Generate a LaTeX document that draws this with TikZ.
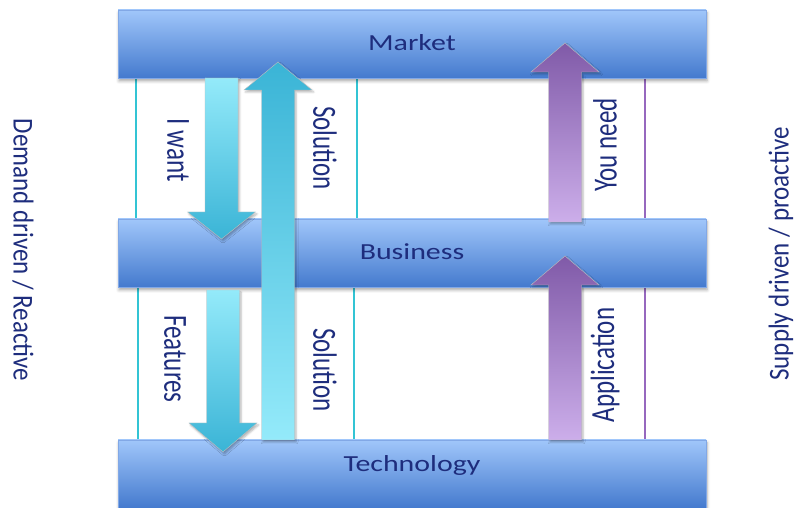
\documentclass[tikz,border=0pt]{standalone}
\usepackage{fontspec}
\setmainfont{Carlito}
\usetikzlibrary{shadows.blur}
\definecolor{txt}{RGB}{30,45,125}
\definecolor{bartop}{RGB}{160,198,250}
\definecolor{barbot}{RGB}{68,122,206}
\definecolor{barline}{RGB}{130,168,230}
\definecolor{cylight}{RGB}{148,234,250}
\definecolor{cydark}{RGB}{58,180,214}
\definecolor{pudark}{RGB}{128,90,168}
\definecolor{pulight}{RGB}{204,174,234}
\definecolor{cyline}{RGB}{50,196,212}
\definecolor{puline}{RGB}{150,104,190}
\newcommand\hstretch[1]{\scalebox{1.3}[1]{#1}}
\newcommand\vstretch[1]{\scalebox{1.35}[1]{#1}}
\newcommand\blockarrow[6]{%
  \path[arrowbody, top color=#5, bottom color=#6]
    (#1-16.5,#2) -- (#1-16.5,#3) -- (#1-34,#3) -- (#1,#4) -- (#1+34,#3)
    -- (#1+16.5,#3) -- (#1+16.5,#2) -- cycle;}
\tikzset{
  bar/.style={rectangle, minimum width=588pt, minimum height=68pt, inner sep=0pt,
    top color=bartop, bottom color=barbot, draw=barline, line width=0.6pt,
    blur shadow={shadow xshift=1pt, shadow yshift=-3pt, shadow blur radius=3pt, shadow opacity=35}},
  barlabel/.style={text=txt, font=\fontsize{23}{27}\selectfont, inner sep=0pt,
    text height=14.8pt, text depth=0pt},
  arrowbody/.style={draw=black!25, line width=0.4pt,
    blur shadow={shadow xshift=1.5pt, shadow yshift=-2pt, shadow blur radius=2pt, shadow opacity=30}},
  vlabel/.style={text=txt, font=\fontsize{25}{30}\selectfont, inner sep=0pt},
  frameline/.style={line width=1.2pt}
}
\begin{document}
\begin{tikzpicture}[x=1pt,y=1pt]
\useasboundingbox (0,0) rectangle (796,508);
% frames
\draw[frameline, draw=cyline] (136,430) rectangle (357,289);
\draw[frameline, draw=cyline] (138,221) rectangle (354,68);
\coordinate (pa) at (645,430); \coordinate (pb) at (645,289);
\coordinate (pc) at (645,221); \coordinate (pd) at (645,68);
\draw[frameline, draw=puline] (pa) -- (pb);
\draw[frameline, draw=puline] (pc) -- (pd);
% bars
\node[bar] (market) at (412,464) {};
\node[bar] (business) at (412,255) {};
\node[bar] (technology) at (412,34) {};
\node[barlabel] (marketl) at (412,464.5) {\hstretch{Market}};
\node[barlabel] (businessl) at (412,256) {\hstretch{Business}};
\node[barlabel] (technologyl) at (412,44) {\hstretch{Technology}};
% arrows
\blockarrow{221.5}{430}{296}{269}{cylight}{cydark}
\blockarrow{278}{68}{418}{446}{cydark}{cylight}
\blockarrow{223}{218}{85}{56}{cylight}{cydark}
\blockarrow{565}{286}{436}{465}{pudark}{pulight}
\blockarrow{565}{68}{223}{252}{pudark}{pulight}
% labels
\node[vlabel] (iwant) at (178,358) {\vstretch{\rotatebox{-90}{I want}}};
\node[vlabel] (sol1) at (325,360) {\vstretch{\rotatebox{-90}{Solution}}};
\node[vlabel] (feat) at (175,149) {\vstretch{\rotatebox{-90}{Features}}};
\node[vlabel] (sol2) at (325,138) {\vstretch{\rotatebox{-90}{Solution}}};
\node[vlabel] (youneed) at (605,363) {\vstretch{\rotatebox{90}{You need}}};
\node[vlabel] (appl) at (605,143) {\vstretch{\rotatebox{90}{Application}}};
\node[vlabel] (demand) at (23,258) {\scalebox{1.15}[1]{\rotatebox{-90}{Demand driven / Reactive}}};
\node[vlabel] (supply) at (781,254) {\scalebox{1.15}[1]{\rotatebox{90}{Supply driven / proactive}}};
\end{tikzpicture}
\end{document}
